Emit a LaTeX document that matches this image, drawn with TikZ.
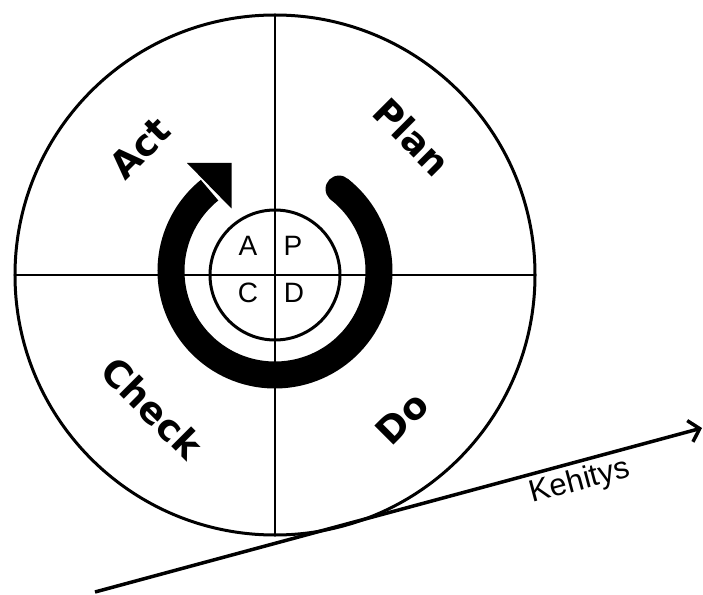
\documentclass[tikz,border=0pt]{standalone}
\usepackage{fontspec}
\setmainfont{Liberation Sans}
\newfontfamily\phasefont{DejaVu Sans}
\usetikzlibrary{arrows.meta,calc}

\begin{document}
\begin{tikzpicture}[x=1pt, y=1pt, >=Stealth,
  phase/.style={font=\phasefont\bfseries\fontsize{37}{40}\selectfont},
  letter/.style={font=\fontsize{28}{32}\selectfont}]
\useasboundingbox (-275,-319) rectangle (428,275);
\draw[line width=3pt] (0,0) coordinate(O) circle (260);
\draw[line width=2.5pt] (-260,0) -- (260,0);
\draw[line width=2.5pt] (0,260) -- (0,-260);
\draw[line width=3pt] (O) circle (65);

% cycle arrow
\coordinate (M) at (0,4);
\draw[line width=27pt] ($(M)+(52:104)$) arc[start angle=52, end angle=-231, radius=104];
\fill ($(M)+(52:104)$) circle (13.5);
\fill (-43.5,112) -- (-88,112) -- (-43.5,66.5) -- cycle;

% quarters
\node[phase, rotate=-45] (plan) at (137,138) {Plan};
\node[phase, rotate=45] (act) at (-135,127) {Act};
\node[phase, rotate=-45] (check) at (-123,-133) {Check};
\node[phase, rotate=45] (do) at (127,-143) {Do};

\node[letter] (a) at (-27,29.5) {A};
\node[letter] (p) at (18,29.5) {P};
\node[letter] (c) at (-27,-18) {C};
\node[letter] (d) at (19,-18) {D};

% improvement line
\coordinate (k0) at (-180,-317);
\coordinate (k1) at (427,-153);
\draw[line width=3.5pt, -{Straight Barb[length=10pt,width=22pt]}] (k0) -- (k1);
\node[rotate=15, font=\fontsize{31}{34}\selectfont] (kehitys) at (305,-207) {Kehitys};
\end{tikzpicture}
\end{document}
